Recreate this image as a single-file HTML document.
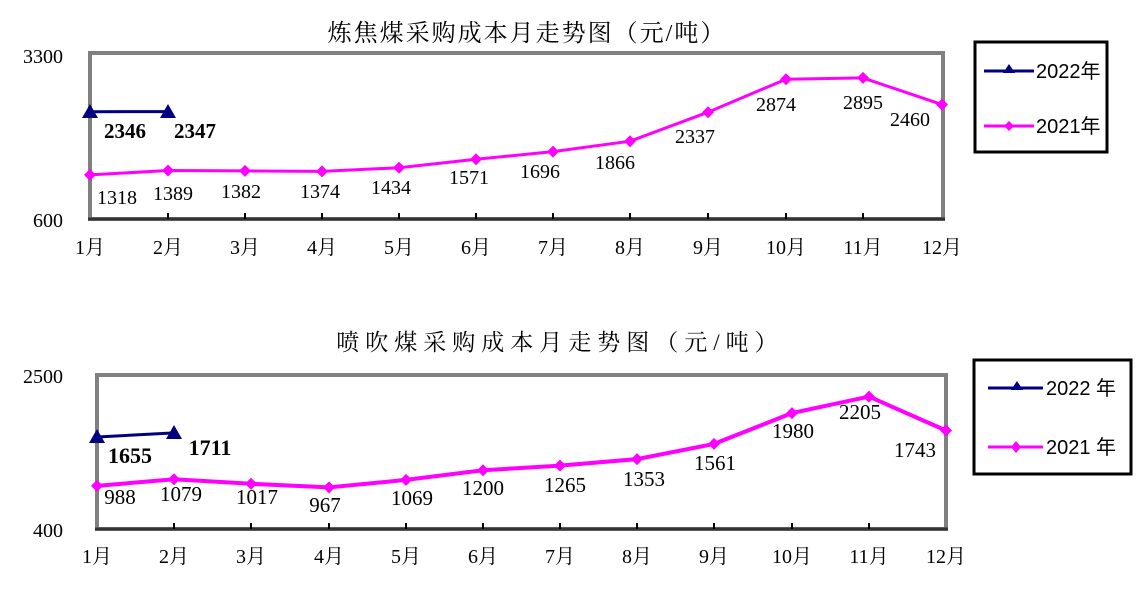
<!DOCTYPE html>
<html><head><meta charset="utf-8"><style>
body{margin:0;background:#fff;}
svg text{font-family:"Liberation Serif","Noto Serif CJK SC","Noto Sans CJK SC",serif;}
</style></head><body>
<svg width="1136" height="587" xmlns="http://www.w3.org/2000/svg">
<rect width="1136" height="587" fill="#fff"/>
<!-- Chart 1 -->
<text x="527" y="41" font-size="24" text-anchor="middle" letter-spacing="2">炼焦煤采购成本月走势图（元/吨）</text>
<rect x="90" y="53" width="853" height="166" fill="#fff" stroke="#808080" stroke-width="4"/>
<line x1="88" y1="219" x2="945" y2="219" stroke="#333" stroke-width="3"/>
<g stroke="#000" stroke-width="2">
<line x1="168" y1="213" x2="168" y2="219"/><line x1="245" y1="213" x2="245" y2="219"/><line x1="322" y1="213" x2="322" y2="219"/><line x1="399" y1="213" x2="399" y2="219"/><line x1="476" y1="213" x2="476" y2="219"/><line x1="553" y1="213" x2="553" y2="219"/><line x1="630" y1="213" x2="630" y2="219"/><line x1="708" y1="213" x2="708" y2="219"/><line x1="786" y1="213" x2="786" y2="219"/><line x1="863" y1="213" x2="863" y2="219"/>
</g>
<g font-size="20" fill="#000">
<text x="63" y="63" text-anchor="end">3300</text>
<text x="63" y="227" text-anchor="end">600</text>
</g>
<g font-size="20" text-anchor="middle">
<text x="90" y="254">1月</text><text x="168" y="254">2月</text><text x="245" y="254">3月</text><text x="322" y="254">4月</text><text x="399" y="254">5月</text><text x="476" y="254">6月</text><text x="553" y="254">7月</text><text x="630" y="254">8月</text><text x="708" y="254">9月</text><text x="786" y="254">10月</text><text x="863" y="254">11月</text><text x="942" y="254">12月</text>
</g>
<polyline fill="none" stroke="#ff00ff" stroke-width="3" points="90,174.9 168,170.5 245,170.9 322,171.4 399,167.7 476,159.3 553,151.6 630,141.2 708,112.2 786,79.2 863,77.9 942,104.6"/>
<g fill="#ff00ff">
<path d="M90,168.9l6,6-6,6-6-6z"/><path d="M168,164.5l6,6-6,6-6-6z"/><path d="M245,164.9l6,6-6,6-6-6z"/><path d="M322,165.4l6,6-6,6-6-6z"/><path d="M399,161.7l6,6-6,6-6-6z"/><path d="M476,153.3l6,6-6,6-6-6z"/><path d="M553,145.6l6,6-6,6-6-6z"/><path d="M630,135.2l6,6-6,6-6-6z"/><path d="M708,106.2l6,6-6,6-6-6z"/><path d="M786,73.2l6,6-6,6-6-6z"/><path d="M863,71.9l6,6-6,6-6-6z"/><path d="M942,98.6l6,6-6,6-6-6z"/>
</g>
<polyline fill="none" stroke="#000080" stroke-width="3" points="90,111.7 168,111.6"/>
<g fill="#000080"><path d="M90,104l8,14h-16z"/><path d="M168,104l8,14h-16z"/></g>
<g font-size="20" text-anchor="middle">
<text x="117" y="204">1318</text><text x="173" y="200">1389</text><text x="241" y="198">1382</text><text x="320" y="198">1374</text><text x="391" y="194">1434</text><text x="469" y="184">1571</text><text x="540" y="178">1696</text><text x="615" y="169">1866</text><text x="695" y="143">2337</text><text x="776" y="111">2874</text><text x="863" y="109">2895</text><text x="910" y="126">2460</text>
<text x="125" y="138" font-weight="bold" font-size="21">2346</text><text x="195" y="138" font-weight="bold" font-size="21">2347</text>
</g>
<rect x="975" y="42" width="132" height="110" fill="#fff" stroke="#000" stroke-width="3"/>
<line x1="984" y1="71" x2="1034" y2="71" stroke="#000080" stroke-width="3"/><path d="M1009,64l6,9h-12z" fill="#000080"/>
<line x1="984" y1="126" x2="1034" y2="126" stroke="#ff00ff" stroke-width="3"/><path d="M1009,121l5,5-5,5-5-5z" fill="#ff00ff"/>
<text x="1036" y="78" font-size="20" style="font-family:'Liberation Sans','Noto Sans CJK SC',sans-serif">2022年</text><text x="1036" y="133" font-size="20" style="font-family:'Liberation Sans','Noto Sans CJK SC',sans-serif">2021年</text>

<!-- Chart 2 -->
<text x="560" y="350" font-size="23" text-anchor="middle" letter-spacing="6">喷吹煤采购成本月走势图（元/吨）</text>
<rect x="97" y="375" width="849" height="154" fill="#fff" stroke="#808080" stroke-width="4"/>
<line x1="95" y1="529" x2="948" y2="529" stroke="#333" stroke-width="3"/>
<g stroke="#000" stroke-width="2">
<line x1="174" y1="523" x2="174" y2="529"/><line x1="251" y1="523" x2="251" y2="529"/><line x1="329" y1="523" x2="329" y2="529"/><line x1="406" y1="523" x2="406" y2="529"/><line x1="483" y1="523" x2="483" y2="529"/><line x1="560" y1="523" x2="560" y2="529"/><line x1="637" y1="523" x2="637" y2="529"/><line x1="714" y1="523" x2="714" y2="529"/><line x1="792" y1="523" x2="792" y2="529"/><line x1="869" y1="523" x2="869" y2="529"/>
</g>
<g font-size="20">
<text x="63" y="383" text-anchor="end">2500</text>
<text x="63" y="537" text-anchor="end">400</text>
</g>
<g font-size="20" text-anchor="middle">
<text x="97" y="563">1月</text><text x="174" y="563">2月</text><text x="251" y="563">3月</text><text x="329" y="563">4月</text><text x="406" y="563">5月</text><text x="483" y="563">6月</text><text x="560" y="563">7月</text><text x="637" y="563">8月</text><text x="714" y="563">9月</text><text x="792" y="563">10月</text><text x="869" y="563">11月</text><text x="946" y="563">12月</text>
</g>
<polyline fill="none" stroke="#ff00ff" stroke-width="4" points="97,485.9 174,479.2 251,483.8 329,487.4 406,479.9 483,470.3 560,465.6 637,459.1 714,443.9 792,413.1 869,396.6 946,430.5"/>
<g fill="#ff00ff">
<path d="M97,479.9l6,6-6,6-6-6z"/><path d="M174,473.2l6,6-6,6-6-6z"/><path d="M251,477.8l6,6-6,6-6-6z"/><path d="M329,481.4l6,6-6,6-6-6z"/><path d="M406,473.9l6,6-6,6-6-6z"/><path d="M483,464.3l6,6-6,6-6-6z"/><path d="M560,459.6l6,6-6,6-6-6z"/><path d="M637,453.1l6,6-6,6-6-6z"/><path d="M714,437.9l6,6-6,6-6-6z"/><path d="M792,407.1l6,6-6,6-6-6z"/><path d="M869,390.6l6,6-6,6-6-6z"/><path d="M946,424.5l6,6-6,6-6-6z"/>
</g>
<polyline fill="none" stroke="#000080" stroke-width="3" points="97,437 174,432.9"/>
<g fill="#000080"><path d="M97,429l8,14h-16z"/><path d="M174,425l8,14h-16z"/></g>
<g font-size="21" text-anchor="middle">
<text x="120" y="504">988</text><text x="181" y="501">1079</text><text x="257" y="504">1017</text><text x="325" y="512">967</text><text x="412" y="505">1069</text><text x="483" y="495">1200</text><text x="565" y="492">1265</text><text x="644" y="486">1353</text><text x="715" y="470">1561</text><text x="793" y="438">1980</text><text x="860" y="419">2205</text><text x="915" y="457">1743</text>
<text x="130" y="463" font-weight="bold" font-size="22">1655</text><text x="210" y="455" font-weight="bold" font-size="22">1711</text>
</g>
<rect x="974" y="360" width="157" height="114" fill="#fff" stroke="#000" stroke-width="3"/>
<line x1="988" y1="388" x2="1043" y2="388" stroke="#000080" stroke-width="3"/><path d="M1017,381l6,9h-12z" fill="#000080"/>
<line x1="988" y1="447" x2="1043" y2="447" stroke="#ff00ff" stroke-width="3"/><path d="M1016,441l5,6-5,6-5-6z" fill="#ff00ff"/>
<text x="1046" y="395" font-size="20" style="font-family:'Liberation Sans','Noto Sans CJK SC',sans-serif">2022 年</text>
<text x="1046" y="454" font-size="20" style="font-family:'Liberation Sans','Noto Sans CJK SC',sans-serif">2021 年</text>
</svg>
</body></html>
